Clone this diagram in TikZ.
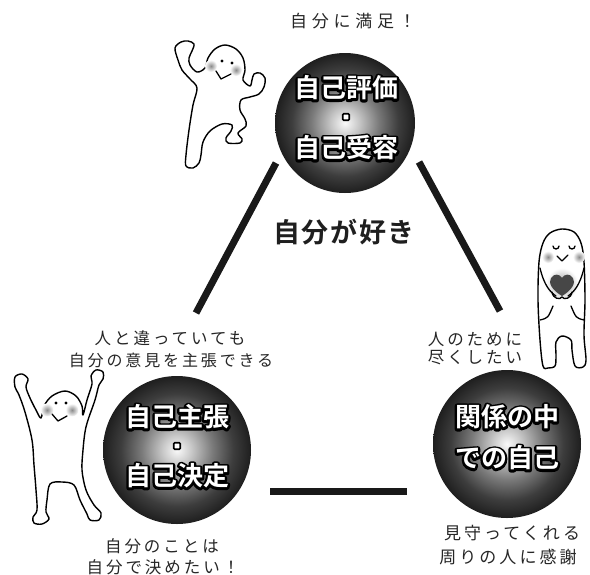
\documentclass[tikz,border=0pt]{standalone}
\usepackage{fontspec}
\newfontfamily\jp[LetterSpace=18]{Noto Sans CJK JP}
\newfontfamily\jpwide[LetterSpace=28]{Noto Sans CJK JP}
\newfontfamily\jpb[LetterSpace=6]{Noto Sans CJK JP Bold}
\newfontfamily\jporb{Noto Sans CJK JP Bold}

% stroked-and-filled glyphs (PDF text render mode 2) for the dark rim
\newcommand\rimtext[1]{\special{pdf:literal direct 2 Tr 4.6 w 1 j}#1\special{pdf:literal direct 0 Tr}}

% glossy ball: bright core fading to a dark rim
\pgfdeclareradialshading{orb}{\pgfpoint{0bp}{0bp}}{%
  color(0bp)=(black!2); color(5bp)=(black!22); color(12bp)=(black!52);
  color(19bp)=(black!76); color(25bp)=(black!88); color(50bp)=(black!88)}

\tikzset{
  orbnode/.style={circle, minimum size=#1, inner sep=0pt, shading=orb},
  orbfont/.style={inner sep=0pt, font=\jporb\fontsize{26}{26}\selectfont},
  note/.style={font=\jp\fontsize{16.5}{16.5}\selectfont, text=black!85, inner sep=0pt},
  bar/.style={line width=7pt, black!90},
  body/.style={draw=black, fill=white, line width=1.4pt, line join=round},
  ink/.style={draw=black, line width=1.3pt, line cap=round, line join=round},
  dotsep/.style={draw=black, fill=white, line width=1.6pt, minimum size=6.5pt,
                 inner sep=0pt, rounded corners=1pt},
}

% white lettering on a stroked black copy of itself
\newcommand\orblabel[3]{%
  \node[orbfont,text=black] at (#2) {\rimtext{#3}};
  \node[orbfont,text=white] (#1) at (#2) {#3};}

\newcommand\blush[2]{\shade[inner color=black!45, outer color=white] (#1) circle (#2);}

\begin{document}
\begin{tikzpicture}[x=1pt,y=-1pt]
\useasboundingbox (0,0) rectangle (590,574);

% ---- the three balls ----
\node[orbnode=140pt] (top) at (345,123) {};
\node[orbnode=148pt] (left) at (177,450) {};
\node[orbnode=148pt] (right) at (507,444) {};

\orblabel{topA}{346,88}{自己評価}
\node[dotsep] (topdot) at (346,117) {};
\orblabel{topB}{346,148}{自己受容}

\orblabel{leftA}{177,417}{自己主張}
\node[dotsep] (leftdot) at (177,446) {};
\orblabel{leftB}{177,476}{自己決定}

\orblabel{rightA}{507,417}{関係の中}
\orblabel{rightB}{507,458}{での自己}

% ---- triangle of bars ----
\coordinate (l1) at (276,163);
\coordinate (l2) at (196,313);
\coordinate (r1) at (419,162);
\coordinate (r2) at (500,311);
\coordinate (b1) at (270,491);
\coordinate (b2) at (407,491);
\draw[bar] (l1) -- (l2);
\draw[bar] (r1) -- (r2);
\draw[bar] (b1) -- (b2);

% ---- captions ----
\node[note, font=\jpwide\fontsize{17}{17}\selectfont] (capTop) at (353,21) {自分に満足！};
\node[font=\jpb\fontsize{27}{27}\selectfont, text=black!88, inner sep=0pt] (centre) at (344,232) {自分が好き};
\node[note] (capL1) at (170,338) {人と違っていても};
\node[note, font=\jp\fontsize{16}{16}\selectfont] (capL2) at (171,360) {自分の意見を主張できる};
\node[note] (capB1) at (162,546) {自分のことは};
\node[note] (capB2) at (163,567) {自分で決めたい！};
\node[note] (capR1) at (475,339) {人のために};
\node[note] (capR2) at (475,358) {尽くしたい};
\node[note, font=\jp\fontsize{17}{17}\selectfont] (capS1) at (512,533) {見守ってくれる};
\node[note, font=\jp\fontsize{17}{17}\selectfont] (capS2) at (508,557) {周りの人に感謝};

% ---- dancing figure, top left ----
\path[body] plot[smooth cycle, tension=0.55] coordinates {
  (175,48) (181,42) (188,41) (194,44) (192,51) (189,58) (190,65) (197,72)
  (205,68) (208,58) (215,49) (225,45) (236,49) (243,58) (245,70) (243,80)
  (250,86) (252,80) (254,74) (260,73) (265,78) (264,87) (259,94) (250,97)
  (241,100) (240,110) (245,119) (246,126) (238,133) (242,139) (240,143)
  (228,143) (226,138) (231,131) (232,125) (222,124) (210,131) (203,142)
  (201,155) (199,163) (193,168) (186,166) (186,155) (189,130) (193,105)
  (197,88) (190,79) (182,70) (178,60)};
\blush{211,66}{6pt}
\blush{236,70}{6pt}
\fill (222,61) circle (1.6pt);
\fill (232,63) circle (1.6pt);
\draw[ink] (216,71) -- (221,79) -- (231,74);

% ---- cheering figure, left ----
\path[body] plot[smooth cycle, tension=0.55] coordinates {
  (15,377) (22,374) (28,379) (26,387) (30,398) (36,410) (41,418)
  (44,406) (52,396) (65,391) (76,396) (82,406) (83,415)
  (87,400) (92,384) (91,376) (96,370) (103,372) (103,379) (99,385)
  (95,400) (88,420) (85,432) (83,450) (82,470) (86,490) (94,505)
  (101,513) (99,520) (90,520) (87,514) (80,500) (74,485) (62,482)
  (50,484) (47,500) (46,512) (49,519) (42,524) (34,523) (33,517)
  (37,510) (36,490) (34,465) (32,440) (25,412) (19,395) (15,387)};
\blush{47,410}{6.5pt}
\blush{72,410}{6.5pt}
\fill (56,403) circle (1.6pt);
\fill (66,403) circle (1.6pt);
\draw[ink] (52,414) -- (58,421) -- (67,416);

% ---- grateful figure, right ----
\path[body] plot[smooth cycle, tension=0.55] coordinates {
  (543,366) (540,340) (538,300) (539,262) (543,243) (550,233) (562,229)
  (574,232) (581,243) (584,262) (585,300) (584,335) (586,360) (583,367)
  (575,366) (572,350) (571,340) (562,336) (556,342) (556,356) (555,366)
  (548,368)};
\blush{548,257}{6pt}
\blush{579,257}{6pt}
\shade[inner color=black!40, outer color=white] (562,284) circle (16pt);
\fill[black!72] (562,296) .. controls (552,290) and (548,283) .. (551,278)
  .. controls (554,273) and (560,274) .. (562,278)
  .. controls (564,274) and (570,273) .. (573,278)
  .. controls (576,283) and (572,290) .. (562,296) -- cycle;
\draw[ink] (553,246) arc (180:360:3pt);
\draw[ink] (569,246) arc (180:360:3pt);
\draw[ink] (557,256) -- (562,261) -- (568,255);
\draw[ink] (540,268) .. controls (544,285) and (550,292) .. (556,296);
\draw[ink] (584,268) .. controls (580,285) and (574,292) .. (568,296);
\draw[ink] (552,292) .. controls (553,299) and (560,300) .. (562,297)
  .. controls (564,300) and (571,299) .. (572,292);
\draw[ink] (540,320) .. controls (548,318) .. (553,306);
\draw[ink] (584,320) .. controls (576,318) .. (571,306);
\end{tikzpicture}
\end{document}
